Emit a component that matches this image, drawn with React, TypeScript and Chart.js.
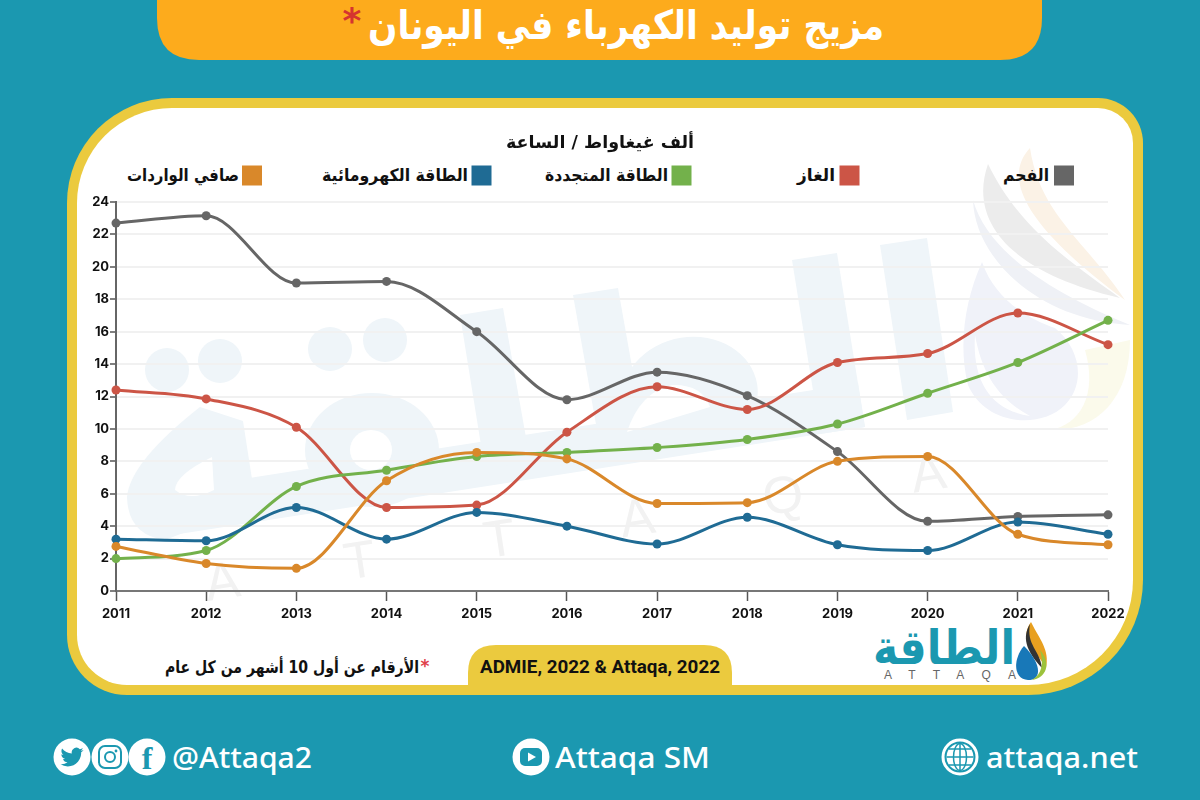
import React, { useEffect, useRef } from "react";
import { Chart, registerables } from "chart.js";

Chart.register(...registerables);

const years = ["2011","2012","2013","2014","2015","2016","2017","2018","2019","2020","2021","2022"];
const coal = [22.7,23.15,19,19.1,16,11.8,13.5,12.05,8.6,4.3,4.6,4.7];
const gas = [12.4,11.85,10.1,5.15,5.3,9.8,12.6,11.2,14.1,14.65,17.15,15.2];
const renewables = [2.0,2.5,6.45,7.45,8.3,8.55,8.85,9.35,10.3,12.2,14.1,16.7];
const hydro = [3.2,3.1,5.15,3.2,4.85,4.0,2.9,4.55,2.85,2.5,4.25,3.5];
const netImports = [2.75,1.7,1.4,6.8,8.55,8.15,5.4,5.45,8.0,8.3,3.5,2.85];

const seriesNames = ["الفحم","الغاز","الطاقة المتجددة","الطاقة الكهرومائية","صافي الواردات"];
const seriesColors = ["#666666","#cc5546","#73b14b","#1f6b94","#d9882a"];
const unitTitle = "ألف غيغاواط / الساعة";
const headline = "مزيج توليد الكهرباء في اليونان";
const footnote = "الأرقام عن أول 10 أشهر من كل عام";
const sourceText = "ADMIE, 2022 & Attaqa, 2022";

const AR = "'DejaVu Sans', sans-serif";
const TEAL = "#1b98b0";
const WM = "#eff5f9";

type FitProps = { x0: number; x1: number; y: number; size: number; fill: string; children: string; family?: string; weight?: number; };
function Fit({ x0, x1, y, size, fill, children, family = AR, weight = 700 }: FitProps) {
  return (
    <text x={(x0 + x1) / 2} y={y} textAnchor="middle" direction="rtl" fontFamily={family} fontWeight={weight}
      fontSize={size} fill={fill} textLength={x1 - x0} lengthAdjust="spacingAndGlyphs">{children}</text>
  );
}
function FitL({ x0, x1, y, size, fill, children, family = "'Noto Sans', sans-serif", weight = 500 }: FitProps) {
  return (
    <text x={x0} y={y} fontFamily={family} fontWeight={weight} fontSize={size} fill={fill}
      textLength={x1 - x0} lengthAdjust="spacingAndGlyphs">{children}</text>
  );
}

const legendBoxes: [number, number, number][] = [
  [1054, 1003, 1049],
  [839.5, 797, 835],
  [671.5, 545, 668],
  [471.5, 322, 468],
  [242, 127, 239],
];

function card(l: number, t: number, r: number, b: number, tl: number, tr: number, br: number, bl: number) {
  return `M${l + tl} ${t}H${r - tr}A${tr} ${tr} 0 0 1 ${r} ${t + tr}V${b - br}A${br} ${br} 0 0 1 ${r - br} ${b}H${l + bl}A${bl} ${bl} 0 0 1 ${l} ${b - bl}V${t + tl}A${tl} ${tl} 0 0 1 ${l + tl} ${t}Z`;
}

const birdPath = "M23.953 4.57a10 10 0 01-2.825.775 4.958 4.958 0 002.163-2.723c-.951.555-2.005.959-3.127 1.184a4.92 4.92 0 00-8.384 4.482C7.69 8.095 4.067 6.13 1.64 3.162a4.822 4.822 0 00-.666 2.475c0 1.71.87 3.213 2.188 4.096a4.904 4.904 0 01-2.228-.616v.06a4.923 4.923 0 003.946 4.827 4.996 4.996 0 01-2.212.085 4.936 4.936 0 004.604 3.417 9.867 9.867 0 01-6.102 2.105c-.39 0-.779-.023-1.17-.067a13.995 13.995 0 007.557 2.209c9.053 0 13.998-7.496 13.998-13.985 0-.21 0-.42-.015-.63A9.935 9.935 0 0024 4.59z";

function Watermark() {
  return (
    <g>
      {/* pale brand mark */}
      <circle cx={167} cy={370} r={22} fill={WM} />
      <circle cx={220} cy={361} r={22} fill={WM} />
      <circle cx={330} cy={349} r={22} fill={WM} />
      <circle cx={385} cy={340} r={22} fill={WM} />
      <path d="M200 407L243 421L256 505L165 540Q128 535 127 497Q130 462 200 407Z" fill={WM} />
      <ellipse cx={372} cy={450} rx={67} ry={57} fill={WM} />
      <ellipse cx={690} cy={395} rx={68} ry={58} fill={WM} transform="rotate(-9 690 395)" />
      <path d="M160 537L865 427L858 383L153 493Z" fill={WM} />
      <path d="M460 315L503 308L530 460L485 470Z" fill={WM} />
      <path d="M573 295L618 288L645 440L600 447Z" fill={WM} />
      <path d="M792 260L837 253L865 427L820 434Z" fill={WM} />
      <path d="M880 245L927 238L953 412L907 420Z" fill={WM} />
      <path d="M212 457L214 490Q190 502 175 490Q175 475 212 457Z" fill="#fff" />
      <ellipse cx={371} cy={450} rx={21} ry={20} fill="#fff" />
      <path d="M627 432Q640 392 672 385Q702 384 710 407Z" fill="#fff" />
      <g transform="rotate(-8.7 637 517)">
        <text x={200} y={535} fontFamily="'Liberation Sans', sans-serif" fontSize={52} fill="#f2f2f2" textLength={749} lengthAdjust="spacing">ATTAQA</text>
      </g>
      {/* pale flame and drop */}
      <path d="M1030 148C1000 180 1030 230 1125 300C1085 240 1040 215 1030 148Z" fill="#fbf2e6" />
      <path d="M988 164C970 215 1000 270 1120 298C1075 265 1020 230 988 164Z" fill="#ececec" />
      <path d="M973 200C975 260 1040 320 1130 325C1070 300 990 260 973 200Z" fill="#eff1f6" />
      <path d="M982 262C965 300 958 345 968 385C985 425 1040 430 1065 405C1085 385 1082 350 1055 328C1030 320 995 300 982 262Z" fill="#f0f2f9" />
      <path d="M975 335C972 380 990 410 1030 416C1000 400 982 375 975 335Z" fill="#fff" />
      <path d="M1085 350C1098 395 1080 425 1050 430C1095 432 1130 400 1130 340Z" fill="#fbfaeb" />
    </g>
  );
}

function Backdrop() {
  return (
    <svg width={1200} height={800} viewBox="0 0 1200 800" style={{ position: "absolute", left: 0, top: 0 }}>
      <rect width={1200} height={800} fill={TEAL} />
      <path d="M157 0H1042V18Q1042 60 1000 60H199Q157 60 157 18Z" fill="#fdab1c" />
      <Fit x0={368} x1={884} y={39} size={40} fill="#ffffff">{headline}</Fit>
      <text x={352} y={33} textAnchor="middle" fontFamily={AR} fontWeight={700} fontSize={36} fill="#d5342f">*</text>

      <path d={card(67, 98, 1143, 695, 105, 45, 115, 60)} fill="#ebca3e" />
      <path d={card(77, 108, 1133, 685, 95, 35, 105, 50)} fill="#ffffff" />

      <Watermark />

      {seriesNames.map((name, i) => (
        <g key={name}>
          <rect x={legendBoxes[i][0]} y={165.5} width={20} height={20} fill={seriesColors[i]} />
          <Fit x0={legendBoxes[i][1]} x1={legendBoxes[i][2]} y={181} size={17} fill="#111111">{name}</Fit>
        </g>
      ))}

      <Fit x0={165} x1={419} y={673} size={17} fill="#111111">{footnote}</Fit>
      <text x={425} y={672} textAnchor="middle" fontFamily={AR} fontWeight={700} fontSize={17} fill="#e0404a">*</text>
      <path d="M468 685V673Q468 645 496 645H704Q732 645 732 673V685Z" fill="#ebca3e" />
      <FitL x0={480} x1={720} y={673} size={18} fill="#111111" family="'Roboto', sans-serif" weight={700}>{sourceText}</FitL>

      <Fit x0={873} x1={1015} y={664} size={48} fill={TEAL}>الطاقة</Fit>
      <text x={884} y={679} fontFamily="'Liberation Sans', sans-serif" fontSize={12} fill="#666666" textLength={132} lengthAdjust="spacing">ATTAQA</text>
      <path d="M1031 622C1018 640 1036 650 1046 668C1050 650 1040 640 1031 622Z" fill="#e8a020" />
      <path d="M1030 624C1020 640 1030 655 1042 668C1040 650 1026 645 1030 624Z" fill="#333333" />
      <path d="M1024 646C1012 660 1014 680 1028 680C1042 680 1042 664 1024 646Z" fill="#1878b8" />
      <path d="M1040 650C1052 664 1046 678 1032 680C1042 674 1044 664 1040 650Z" fill="#9cc23c" />

      <circle cx={72} cy={757} r={18.5} fill="#fff" />
      <g transform="translate(60.5 745.5) scale(0.96)"><path d={birdPath} fill={TEAL} /></g>
      <circle cx={110} cy={757} r={18.5} fill="#fff" />
      <rect x={99} y={746} width={22} height={22} rx={6} fill="none" stroke={TEAL} strokeWidth={2} />
      <circle cx={110} cy={757} r={5} fill="none" stroke={TEAL} strokeWidth={2} />
      <circle cx={116} cy={751} r={1.4} fill={TEAL} />
      <circle cx={147} cy={757} r={18.5} fill="#fff" />
      <text x={147} y={769} textAnchor="middle" fontFamily="'Liberation Serif', serif" fontWeight={700} fontSize={32} fill={TEAL}>f</text>
      <FitL x0={172} x1={312} y={768} size={29} fill="#fff">@Attaqa2</FitL>

      <circle cx={531} cy={757} r={18.5} fill="#fff" />
      <rect x={520} y={748} width={22} height={18} rx={5} fill={TEAL} />
      <path d="M528 752.5L536 757L528 761.5Z" fill="#fff" />
      <FitL x0={555} x1={710} y={768} size={29} fill="#fff">Attaqa SM</FitL>

      <circle cx={960} cy={757} r={17} fill="none" stroke="#fff" strokeWidth={3} />
      <circle cx={960} cy={757} r={13.5} fill="#fff" />
      <ellipse cx={960} cy={757} rx={6.5} ry={13.5} fill="none" stroke={TEAL} strokeWidth={1.5} />
      <path d="M946.5 757H973.5M960 743.5V770.5M949 749H971M949 765H971" stroke={TEAL} strokeWidth={1.5} fill="none" />
      <FitL x0={986} x1={1138} y={768} size={29} fill="#fff">attaqa.net</FitL>
    </svg>
  );
}

export default function App() {
  const ref = useRef<HTMLCanvasElement>(null);
  useEffect(() => {
    const all = [coal, gas, renewables, hydro, netImports];
    const chart = new Chart(ref.current!, {
      type: "line",
      data: {
        labels: years,
        datasets: all.map((d, i) => ({
          label: seriesNames[i],
          data: d,
          borderColor: seriesColors[i],
          backgroundColor: seriesColors[i],
          borderWidth: 3,
          pointRadius: 4.5,
          pointBorderWidth: 0,
          cubicInterpolationMode: "monotone" as const,
          clip: false as any,
          order: 5 - i,
        })),
      },
      options: {
        responsive: false,
        animation: false,
        events: [],
        layout: { padding: { left: 92, right: 92, top: 130, bottom: 150 } },
        plugins: {
          legend: { display: false },
          tooltip: { enabled: false },
          title: {
            display: true,
            text: unitTitle,
            color: "#111111",
            font: { family: "'DejaVu Sans'", size: 17.5, weight: "bold", lineHeight: 1.25 },
            padding: { top: 3, bottom: 47.125 },
          },
        },
        scales: {
          x: {
            offset: false,
            afterFit: (s: any) => { s.height = 59; },
            border: { display: true, color: "#777777", width: 2 },
            grid: { drawOnChartArea: false, drawTicks: true, tickLength: 10, tickColor: "#555555", tickWidth: 1.5 },
            ticks: { color: "#111111", maxRotation: 0, autoSkip: false, padding: 5, font: { family: "'Inter'", size: 13, weight: "bold" } },
          },
          y: {
            min: 0,
            max: 24,
            afterFit: (s: any) => { s.width = 24; },
            border: { display: true, color: "#666666", width: 2 },
            grid: { color: "#f1f1f1", lineWidth: 2, drawTicks: true, tickLength: 6, tickColor: "#555555", tickWidth: 1.5 },
            ticks: { stepSize: 2, color: "#111111", padding: 1, font: { family: "'Inter'", size: 13, weight: "bold" } },
          },
        },
      },
    } as any);
    return () => chart.destroy();
  }, []);
  return (
    <div style={{ position: "relative", width: 1200, height: 800, overflow: "hidden" }}>
      <style>{`html,body{margin:0;padding:0;}`}</style>
      <Backdrop />
      <canvas ref={ref} width={1200} height={800} style={{ position: "absolute", left: 0, top: 0 }} />
    </div>
  );
}
